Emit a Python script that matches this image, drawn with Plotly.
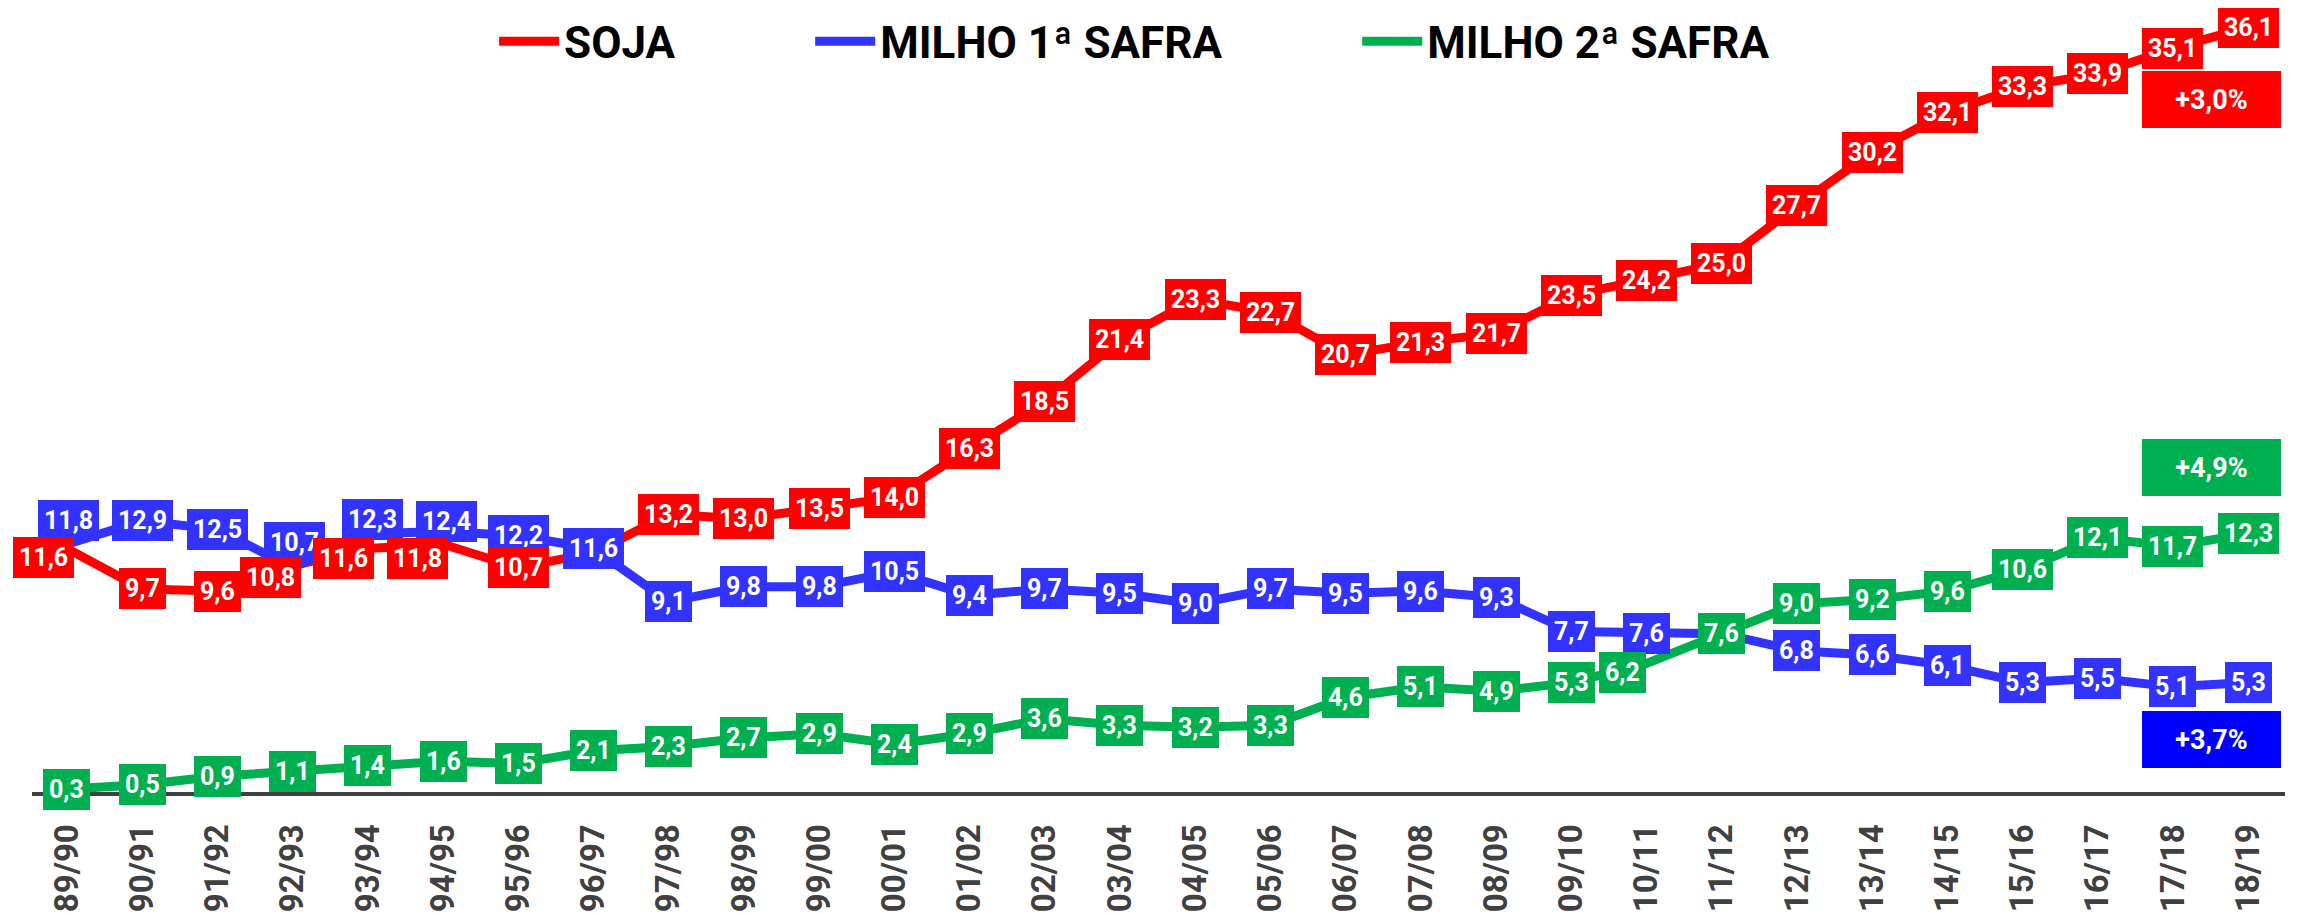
import plotly.graph_objects as go

# ---- data ----
seasons = ["89/90", "90/91", "91/92", "92/93", "93/94", "94/95", "95/96", "96/97",
           "97/98", "98/99", "99/00", "00/01", "01/02", "02/03", "03/04", "04/05",
           "05/06", "06/07", "07/08", "08/09", "09/10", "10/11", "11/12", "12/13",
           "13/14", "14/15", "15/16", "16/17", "17/18", "18/19"]
soja = [11.6, 9.7, 9.6, 10.8, 11.6, 11.8, 10.7, 11.4, 13.2, 13.0, 13.5, 14.0, 16.3, 18.5,
        21.4, 23.3, 22.7, 20.7, 21.3, 21.7, 23.5, 24.2, 25.0, 27.7, 30.2, 32.1, 33.3, 33.9,
        35.1, 36.1]
milho1 = [11.8, 12.9, 12.5, 10.7, 12.3, 12.4, 12.2, 11.6, 9.1, 9.8, 9.8, 10.5, 9.4, 9.7,
          9.5, 9.0, 9.7, 9.5, 9.6, 9.3, 7.7, 7.6, 7.6, 6.8, 6.6, 6.1, 5.3, 5.5, 5.1, 5.3]
milho2 = [0.3, 0.5, 0.9, 1.1, 1.4, 1.6, 1.5, 2.1, 2.3, 2.7, 2.9, 2.4, 2.9, 3.6, 3.3, 3.2,
          3.3, 4.6, 5.1, 4.9, 5.3, 6.2, 7.6, 9.0, 9.2, 9.6, 10.6, 12.1, 11.7, 12.3]
series_names = ["SOJA", "MILHO 1ª SAFRA", "MILHO 2ª SAFRA"]
growth_labels = ["+3,0%", "+3,7%", "+4,9%"]

# ---- styles ----
RED, BLUE, GREEN = "#FF0000", "#3333FF", "#00B050"
BLUE_BOX = "#0000FF"
FONT = "Roboto"

fig = go.Figure()
xs = list(range(len(seasons)))
series = [(series_names[0], soja, RED, "legend"),
          (series_names[1], milho1, BLUE, "legend2"),
          (series_names[2], milho2, GREEN, "legend3")]
for name, vals, col, leg in series:
    fig.add_trace(go.Scatter(x=xs, y=vals, mode="lines", name=name,
                             line=dict(color=col, width=9), legend=leg,
                             hoverinfo="skip"))

# label pixel offsets (dx, dy; dy positive = down) for manually moved labels
offsets = {
    ("SOJA", 0): (-23, 9), ("SOJA", 3): (-22, 12), ("SOJA", 4): (-24, 10), ("SOJA", 5): (-26, 14),
    ("MILHO 1ª SAFRA", 0): (2, -24), ("MILHO 1ª SAFRA", 3): (2, -25),
    ("MILHO 1ª SAFRA", 4): (5, -14), ("MILHO 1ª SAFRA", 5): (3, -10),
    ("MILHO 2ª SAFRA", 21): (-24, 9),
}
hidden = {("SOJA", 7)}

annotations = []
# draw order: blue, red, green (later on top)
for name, vals, col, leg in [series[1], series[0], series[2]]:
    for i, v in enumerate(vals):
        if (name, i) in hidden:
            continue
        dx, dy = offsets.get((name, i), (0, 0))
        annotations.append(dict(
            x=i, y=v, xref="x", yref="y", showarrow=False,
            text=f"{v:.1f}".replace(".", ","),
            font=dict(family=FONT, size=25, color="white", weight="bold"),
            bgcolor=col, borderpad=6, borderwidth=0,
            xshift=dx, yshift=-dy))

# growth rate boxes
growth_pos = [(28.51, 32.70, RED), (28.51, 2.63, BLUE_BOX), (28.51, 15.43, GREEN)]
for txt, (gx, gy, gc) in zip(growth_labels, growth_pos):
    annotations.append(dict(
        x=gx, y=gy, xref="x", yref="y", showarrow=False, text=txt,
        font=dict(family=FONT, size=27, color="white", weight="bold"),
        bgcolor=gc, width=125, height=43, borderpad=7, borderwidth=0))

leg_common = dict(orientation="h", yanchor="middle", xanchor="left",
                  font=dict(family=FONT, size=44, color="black", weight="bold"),
                  bgcolor="rgba(0,0,0,0)", borderwidth=0, itemwidth=60)

# page body adds an 8px offset, so the figure is 8px smaller than the window
fig.update_layout(
    width=2290, height=905,
    margin=dict(l=24, r=13, t=4, b=121, autoexpand=False),
    plot_bgcolor="white", paper_bgcolor="white",
    showlegend=True,
    legend=dict(x=0.2051, y=0.962, **leg_common),
    legend2=dict(x=0.3454, y=0.962, **leg_common),
    legend3=dict(x=0.5882, y=0.962, **leg_common),
    xaxis=dict(range=[-0.465, 29.49], tickmode="array", tickvals=xs, ticktext=seasons,
               tickangle=-90, showline=True, linecolor="#404040", linewidth=4,
               showgrid=False, zeroline=False, ticks="outside", ticklen=15,
               tickcolor="rgba(0,0,0,0)", automargin=False,
               tickfont=dict(family=FONT, size=33, color="#404040", weight="bold")),
    yaxis=dict(range=[0.16, 36.81], visible=False, showgrid=False, zeroline=False),
    annotations=annotations,
)

fig.write_html("out.html")
